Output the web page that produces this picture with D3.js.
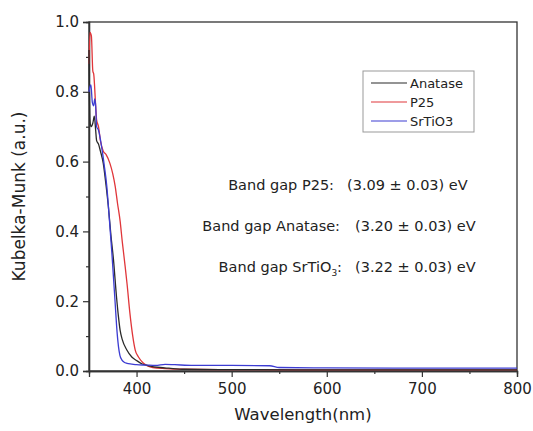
<!DOCTYPE html>
<html>
<head>
<meta charset="utf-8">
<script src="https://cdn.jsdelivr.net/npm/d3@7"></script>
<style>
  body { margin: 0; background: #fff; }
  text { font-family: "DejaVu Sans", sans-serif; fill: #222; }
</style>
</head>
<body>
<div id="chart"></div>
<script>
// width and height of the page
var width = 533;
var height = 431;

// plot area
var margin = { left: 89, top: 22, right: 16, bottom: 60 };

// series data (wavelength in nm, Kubelka-Munk in a.u.)
var anataseX = [350, 351, 352, 354, 355.6, 357, 358, 360, 362, 365, 368, 370.4, 373, 375.7, 379, 381, 382.7, 385, 389.8, 395, 400, 406, 413, 425, 434, 450, 500, 600, 700, 800];
var anataseY = [0.92, 0.72, 0.70, 0.71, 0.73, 0.69, 0.66, 0.65, 0.63, 0.595, 0.53, 0.47, 0.39, 0.32, 0.21, 0.155, 0.117, 0.09, 0.06, 0.04, 0.03, 0.02, 0.015, 0.01, 0.008, 0.005, 0.004, 0.003, 0.003, 0.003];

var p25X = [350, 351, 352.5, 354, 355, 357, 358, 360, 362, 365, 368, 372, 375, 377.5, 380, 382.7, 385, 388, 390, 393, 396, 398.6, 402, 407, 412, 417, 430, 450, 500, 600, 700, 800];
var p25Y = [0.88, 0.97, 0.96, 0.86, 0.85, 0.76, 0.72, 0.70, 0.66, 0.63, 0.62, 0.595, 0.565, 0.53, 0.48, 0.43, 0.37, 0.30, 0.25, 0.166, 0.10, 0.06, 0.04, 0.023, 0.014, 0.01, 0.007, 0.005, 0.004, 0.003, 0.003, 0.003];

var srtioX = [350, 351, 352, 353.5, 355, 356, 357, 358, 360, 363.4, 366, 368.7, 371, 374, 377.5, 379, 381, 382.5, 384.5, 387, 390, 395, 400, 410, 420, 430, 440, 460, 500, 540, 550, 600, 700, 800];
var srtioY = [0.80, 0.815, 0.82, 0.77, 0.76, 0.78, 0.76, 0.70, 0.69, 0.64, 0.59, 0.53, 0.45, 0.34, 0.195, 0.13, 0.07, 0.045, 0.032, 0.025, 0.022, 0.02, 0.018, 0.017, 0.016, 0.019, 0.018, 0.016, 0.016, 0.015, 0.01, 0.009, 0.008, 0.008];

var seriesNames = ["Anatase", "P25", "SrTiO3"];
var seriesColors = ["#2a2a2a", "#e0363a", "#3c3cd2"];

// tick values
var xTicks = [400, 500, 600, 700, 800];
var xMinor = [450, 550, 650, 750];
var yTicks = [0.0, 0.2, 0.4, 0.6, 0.8, 1.0];
var yMinor = [0.1, 0.3, 0.5, 0.7, 0.9];

// annotations
var gapLabels = ["Band gap P25:", "Band gap Anatase:", "Band gap SrTiO", "(3.09 \u00b1 0.03) eV", "(3.20 \u00b1 0.03) eV", "(3.22 \u00b1 0.03) eV"];

var svg = d3.select("#chart")
	.append("svg")
	.attr("width", width)
	.attr("height", height);

var x = d3.scaleLinear()
	.domain([350, 800])
	.range([margin.left, width - margin.right]);

var y = d3.scaleLinear()
	.domain([0, 1])
	.range([height - margin.bottom, margin.top]);

// frame
svg.append("rect")
	.attr("x", x(350))
	.attr("y", y(1))
	.attr("width", x(800) - x(350))
	.attr("height", y(0) - y(1))
	.style("fill", "none")
	.style("stroke", "#333")
	.style("stroke-width", 1.3);

// x axis
var xAxis = svg.append("g")
	.attr("transform", "translate(0," + y(0) + ")")
	.call(d3.axisBottom(x).tickValues(xTicks).tickSize(6).tickPadding(6).tickFormat(d3.format("d")));
xAxis.selectAll("text").style("font-size", "15px");
svg.append("g")
	.attr("transform", "translate(0," + y(0) + ")")
	.call(d3.axisBottom(x).tickValues(xMinor).tickSize(3).tickFormat(""));

// y axis
var yAxis = svg.append("g")
	.attr("transform", "translate(" + x(350) + ",0)")
	.call(d3.axisLeft(y).tickValues(yTicks).tickSize(6).tickPadding(4).tickFormat(d3.format(".1f")));
yAxis.selectAll("text").style("font-size", "15px");
svg.append("g")
	.attr("transform", "translate(" + x(350) + ",0)")
	.call(d3.axisLeft(y).tickValues(yMinor).tickSize(3).tickFormat(""));

svg.selectAll(".domain").style("stroke", "#333").style("stroke-width", 1.3);
svg.selectAll(".tick line").style("stroke", "#333").style("stroke-width", 1.2);

// axis titles
svg.append("text")
	.attr("x", (x(350) + x(800)) / 2)
	.attr("y", 420)
	.attr("text-anchor", "middle")
	.style("font-size", "16.5px")
	.text("Wavelength(nm)");

svg.append("text")
	.attr("transform", "translate(25," + (y(0) + y(1)) / 2 + ") rotate(-90)")
	.attr("text-anchor", "middle")
	.style("font-size", "17px")
	.text("Kubelka-Munk (a.u.)");

// curves
var line = d3.line()
	.x(function (d) { return x(d[0]); })
	.y(function (d) { return y(d[1]); })
	.curve(d3.curveMonotoneX);

var series = [
	d3.zip(anataseX, anataseY),
	d3.zip(p25X, p25Y),
	d3.zip(srtioX, srtioY)
];
// draw red first, then black, then blue on top
[1, 0, 2].forEach(function (i) {
	svg.append("path")
		.datum(series[i])
		.attr("d", line)
		.style("fill", "none")
		.style("stroke", seriesColors[i])
		.style("stroke-width", 1.3);
});

// legend
var legend = svg.append("g").attr("transform", "translate(363,71)");
legend.append("rect")
	.attr("width", 111)
	.attr("height", 61)
	.style("fill", "#fff")
	.style("stroke", "#999")
	.style("stroke-width", 1);
seriesNames.forEach(function (name, i) {
	legend.append("line")
		.attr("x1", 8).attr("x2", 44)
		.attr("y1", 12 + i * 19).attr("y2", 12 + i * 19)
		.style("stroke", seriesColors[i])
		.style("stroke-width", 1.2);
	legend.append("text")
		.attr("x", 47)
		.attr("y", 12 + i * 19 + 4.5)
		.style("font-size", "13px")
		.text(name);
});

// band gap notes
var notes = svg.append("g").style("font-size", "14.5px");
notes.append("text").attr("x", 334).attr("y", 190).attr("text-anchor", "end").text(gapLabels[0]);
notes.append("text").attr("x", 340).attr("y", 231).attr("text-anchor", "end").text(gapLabels[1]);
var t3 = notes.append("text").attr("x", 342).attr("y", 272).attr("text-anchor", "end");
t3.append("tspan").text(gapLabels[2]);
t3.append("tspan").attr("dy", 4).style("font-size", "9px").text("3");
t3.append("tspan").attr("dy", -4).text(":");
notes.append("text").attr("x", 347).attr("y", 190).text(gapLabels[3]);
notes.append("text").attr("x", 355).attr("y", 231).text(gapLabels[4]);
notes.append("text").attr("x", 355).attr("y", 272).text(gapLabels[5]);
</script>
</body>
</html>
